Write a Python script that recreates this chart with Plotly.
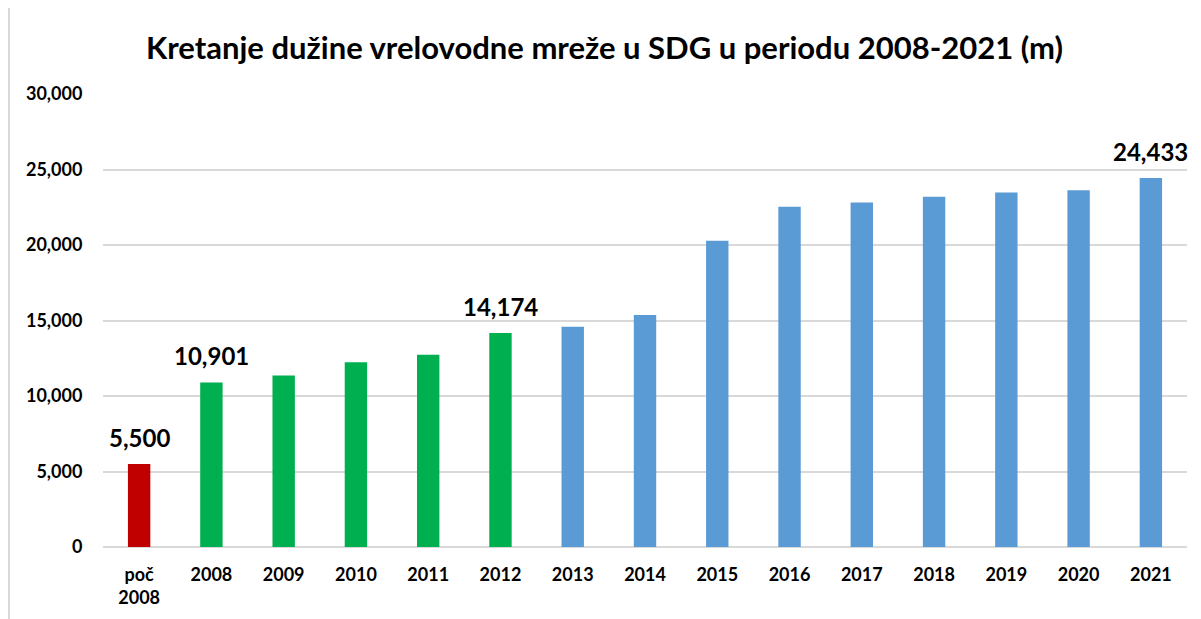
import plotly.graph_objects as go

categories = ['poč<br>2008', '2008', '2009', '2010', '2011', '2012', '2013',
              '2014', '2015', '2016', '2017', '2018', '2019', '2020', '2021']
lengths = [5500, 10901, 11350, 12230, 12740, 14174, 14580,
           15370, 20280, 22530, 22820, 23190, 23480, 23630, 24433]
bar_colors = ['#C00000'] + ['#00B050'] * 5 + ['#5B9BD5'] * 9
labeled = ['poč<br>2008', '2008', '2012', '2021']

fig = go.Figure()
fig.add_trace(go.Bar(
    x=categories,
    y=lengths,
    marker=dict(color=bar_colors, line=dict(width=0)),
    hoverinfo='x+y'
))

# value labels; category index used so "2008" is not read as a number
for i, (cat, val) in enumerate(zip(categories, lengths)):
    if cat in labeled:
        fig.add_annotation(
            x=i, y=val, text=f'{val:,}',
            showarrow=False, yanchor='bottom', yshift=10,
            font=dict(family='Lato', size=24, color='#000000', weight='bold')
        )

# chart border on the left
fig.add_shape(type='line', xref='paper', yref='paper',
              x0=-0.0867, x1=-0.0867, y0=-0.16, y1=1.2,
              line=dict(color='#D9D9D9', width=2))

fig.update_layout(
    title=dict(
        text='Kretanje dužine vrelovodne mreže u SDG u periodu 2008-2021 (m)',
        x=0.5, xanchor='center', y=0.9345, yanchor='middle',
        font=dict(family='Lato', size=31, color='#000000', weight='bold')
    ),
    width=1193, height=611,
    paper_bgcolor='white', plot_bgcolor='white',
    showlegend=False,
    bargap=0.69,
    margin=dict(t=86, l=95, r=14, b=72),
    font=dict(family='Lato', color='#000000'),
    xaxis=dict(
        type='category', range=[-0.5, len(categories) - 0.5],
        tickfont=dict(family='Lato', size=18, color='#000000', weight='bold'),
        showgrid=False, showline=False,
        ticks='outside', ticklen=11, tickcolor='white'
    ),
    yaxis=dict(
        range=[0, 30000], dtick=5000, tickformat=',',
        tickfont=dict(family='Lato', size=18, color='#000000', weight='bold'),
        gridcolor='#D9D9D9', gridwidth=2, zeroline=True,
        zerolinecolor='#D9D9D9', zerolinewidth=2,
        ticks='outside', ticklen=16, tickcolor='white', showline=False
    )
)

fig.write_html('out.html')
